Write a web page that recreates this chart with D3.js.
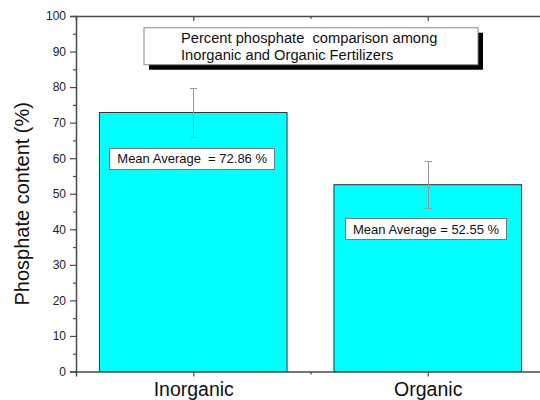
<!DOCTYPE html>
<html>
<head>
<meta charset="utf-8">
<script src="https://cdn.jsdelivr.net/npm/d3@7"></script>
<style>
  html, body { margin: 0; padding: 0; background: #fff; }
  svg { display: block; font-family: "Liberation Sans", Arial, sans-serif; }
</style>
</head>
<body>
<svg id="chart" width="540" height="400"></svg>
<script>
// ---- data ----
const categories = ["Inorganic", "Organic"];
const means = [72.86, 52.55];
const errors = [6.9, 6.6];
const yTicks = [0, 10, 20, 30, 40, 50, 60, 70, 80, 90, 100];
const yMinorTicks = [5, 15, 25, 35, 45, 55, 65, 75, 85, 95];
const meanLabels = ["Mean Average  = 72.86 %", "Mean Average = 52.55 %"];
const meanLabelAnchors = [[0.642, 62.9], [1.647, 43.1]]; // [x category units, y value] of box top-left
const titleLines = ["Percent phosphate  comparison among", "Inorganic and Organic Fertilizers"];
const yTitle = "Phosphate content (%)";

// ---- layout ----
const svg = d3.select("#chart");
const plotLeft = 76, plotRight = 545, plotTop = 16, plotBottom = 371.5;

const x = d3.scaleLinear().domain([0.5, 2.5]).range([plotLeft, plotRight]);
const y = d3.scaleLinear().domain([0, 100]).range([plotBottom, plotTop]);
const barW = x(1.4) - x(0.6);
const axisColor = "#4a4a4a";

// bars
svg.append("g").selectAll("rect").data(means).join("rect")
  .attr("x", (d, i) => x(i + 1) - barW / 2)
  .attr("y", d => y(d))
  .attr("width", barW)
  .attr("height", d => y(0) - y(d))
  .attr("fill", "#00ffff")
  .attr("stroke", "#333")
  .attr("stroke-width", 1);

// error bars
const eb = svg.append("g").attr("stroke", "#999").attr("stroke-width", 1).attr("fill", "none");
means.forEach((m, i) => {
  const cx = Math.round(x(i + 1)) + 0.5;
  eb.append("line").attr("x1", cx).attr("x2", cx).attr("y1", y(m + errors[i])).attr("y2", y(m - errors[i]));
  [m + errors[i], m - errors[i]].forEach(v => {
    eb.append("line").attr("x1", cx - 3.5).attr("x2", cx + 3.5).attr("y1", Math.round(y(v)) + 0.5).attr("y2", Math.round(y(v)) + 0.5);
  });
});

function styleAxis(g) {
  g.selectAll(".domain").attr("stroke", axisColor).attr("stroke-width", 1.5);
  g.selectAll(".tick line").attr("stroke", axisColor).attr("stroke-width", 1.2);
}

// left axis (major + minor)
const gLeft = svg.append("g").attr("transform", `translate(${plotLeft},0)`)
  .call(d3.axisLeft(y).tickValues(yTicks).tickSize(6).tickPadding(4).tickFormat(d3.format("d")));
gLeft.selectAll("text").attr("font-size", 12).attr("fill", "#222");
styleAxis(gLeft);
const gLeftMinor = svg.append("g").attr("transform", `translate(${plotLeft},0)`)
  .call(d3.axisLeft(y).tickValues(yMinorTicks).tickSize(3).tickFormat(""));
gLeftMinor.select(".domain").remove();
styleAxis(gLeftMinor);

// right axis (inward ticks, no labels)
const gRight = svg.append("g").attr("transform", `translate(${plotRight},0)`)
  .call(d3.axisLeft(y).tickValues(yTicks).tickSize(5).tickFormat(""));
styleAxis(gRight);
const gRightMinor = svg.append("g").attr("transform", `translate(${plotRight},0)`)
  .call(d3.axisLeft(y).tickValues(yMinorTicks).tickSize(3).tickFormat(""));
gRightMinor.select(".domain").remove();
styleAxis(gRightMinor);

// bottom axis
const gBottom = svg.append("g").attr("transform", `translate(0,${plotBottom})`)
  .call(d3.axisBottom(x).tickValues([1, 2]).tickSize(5).tickPadding(6).tickFormat(d => categories[d - 1]));
gBottom.selectAll("text").attr("font-size", 19.5).attr("fill", "#111");
styleAxis(gBottom);
const gBottomMinor = svg.append("g").attr("transform", `translate(0,${plotBottom})`)
  .call(d3.axisBottom(x).tickValues([1.5]).tickSize(3).tickFormat(""));
gBottomMinor.select(".domain").remove();
styleAxis(gBottomMinor);

// top axis (inward ticks)
const gTop = svg.append("g").attr("transform", `translate(0,${plotTop})`)
  .call(d3.axisTop(x).tickValues([1, 2]).tickSize(-5).tickFormat(""));
styleAxis(gTop);
const gTopMinor = svg.append("g").attr("transform", `translate(0,${plotTop})`)
  .call(d3.axisTop(x).tickValues([1.5]).tickSize(-3).tickFormat(""));
gTopMinor.select(".domain").remove();
styleAxis(gTopMinor);

// y title
svg.append("text")
  .attr("transform", `translate(29,${(plotTop + plotBottom) / 2 + 10}) rotate(-90)`)
  .attr("text-anchor", "middle")
  .attr("font-size", 20)
  .attr("fill", "#111")
  .text(yTitle);

// mean labels
meanLabels.forEach((t, i) => {
  const bx = x(meanLabelAnchors[i][0]), by = y(meanLabelAnchors[i][1]);
  const g = svg.append("g");
  const rect = g.append("rect").attr("fill", "#fff").attr("stroke", "#777").attr("stroke-width", 1);
  const txt = g.append("text").attr("x", bx + 8).attr("y", by + 15.5).attr("font-size", 13).attr("fill", "#111")
    .style("white-space", "pre").text(t);
  const w = txt.node().getComputedTextLength();
  rect.attr("x", Math.round(bx) + 0.5).attr("y", Math.round(by) + 0.5).attr("width", Math.round(w + 15)).attr("height", 21);
});

// title box with shadow
const tb = { x: x(0.79), y: y(96.7), w: 334, h: 37 };
svg.append("rect").attr("x", tb.x + 5).attr("y", tb.y + 5).attr("width", tb.w).attr("height", tb.h).attr("fill", "#000");
svg.append("rect").attr("x", tb.x).attr("y", tb.y).attr("width", tb.w).attr("height", tb.h)
  .attr("fill", "#fff").attr("stroke", "#888").attr("stroke-width", 1);
svg.append("g").selectAll("text").data(titleLines).join("text")
  .attr("x", tb.x + 37)
  .attr("y", (d, i) => tb.y + 15 + i * 17)
  .attr("font-size", 14.7)
  .attr("fill", "#111")
  .style("white-space", "pre")
  .text(d => d);
</script>
</body>
</html>
